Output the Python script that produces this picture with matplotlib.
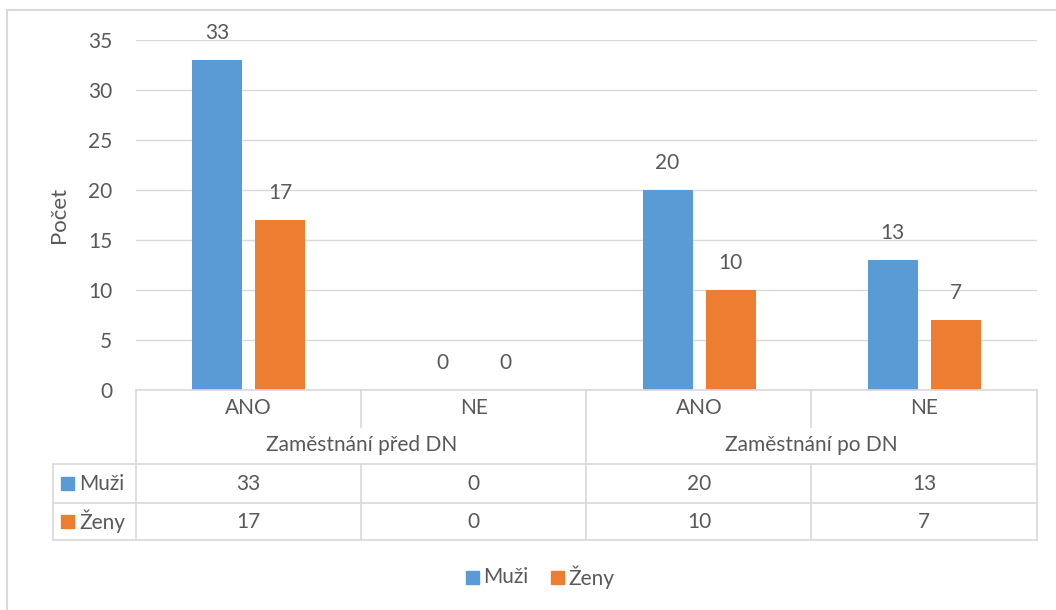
import matplotlib
matplotlib.use("Agg")
import matplotlib.pyplot as plt
from matplotlib.lines import Line2D
from matplotlib.patches import Rectangle
import matplotlib.transforms as mtransforms
import numpy as np

# data
categories = ["ANO", "NE", "ANO", "NE"]
groups = ["Zaměstnání před DN", "Zaměstnání po DN"]
series_names = ["Muži", "Ženy"]
muzi = [33, 0, 20, 13]
zeny = [17, 0, 10, 7]

colors = ["#5B9BD5", "#ED7D31"]
text_c = "#595959"
line_c = "#D9D9D9"
fs = 15

plt.rcParams["font.family"] = ["Lato", "DejaVu Sans"]
W, H = 1056, 610


def fx(x):
    return x / W


def fy(y):
    return 1 - y / H


def hline(fig, x0, x1, y, lw=1.2):
    fig.add_artist(Line2D([fx(x0), fx(x1)], [fy(y), fy(y)], color=line_c, lw=lw))


def vline(fig, x, y0, y1, lw=1.2):
    fig.add_artist(Line2D([fx(x), fx(x)], [fy(y0), fy(y1)], color=line_c, lw=lw))


fig = plt.figure(figsize=(W / 100, H / 100), dpi=100)
ax = fig.add_axes([fx(136), fy(390), fx(1037) - fx(136), fy(40) - fy(390)])

x = np.arange(len(categories))
width = 0.222
off = 0.14
for i, vals in enumerate([muzi, zeny]):
    pos = x - off if i == 0 else x + off
    ax.bar(pos, vals, width, color=colors[i], zorder=3)
    for p, v in zip(pos, vals):
        ax.annotate(str(v), (p, v), xytext=(0, 19.5), textcoords="offset points",
                    ha="center", va="center", fontsize=fs, color=text_c,
                    annotation_clip=False)

ax.set_xlim(-0.5, len(categories) - 0.5)
ax.set_ylim(0, 35)
ax.set_yticks(range(0, 36, 5))
ax.set_xticks([])
ax.tick_params(axis="y", length=0, pad=17, labelsize=fs, labelcolor=text_c)
ax.grid(axis="y", color=line_c, lw=1.0, zorder=0)
for sp in ax.spines.values():
    sp.set_visible(False)
ax.set_ylabel("Počet", fontsize=16, color=text_c, labelpad=14)

# outer chart border
hline(fig, 7, W, 10, lw=1.5)
vline(fig, 7, 10, H, lw=1.5)

# data table grid
hline(fig, 136, 1037, 390)
hline(fig, 53, 1037, 464)
hline(fig, 53, 1037, 503)
hline(fig, 53, 1037, 540)
vline(fig, 53, 464, 540)
for xp in [136, 586, 1037]:
    vline(fig, xp, 390, 540)
for xp in [361, 811]:
    vline(fig, xp, 390, 427)
    vline(fig, xp, 464, 540)

tr = mtransforms.blended_transform_factory(ax.transData, fig.transFigure)
for xi, c in zip(x, categories):
    fig.text(xi, fy(408), c, transform=tr, ha="center", va="center",
             fontsize=fs, color=text_c)
for gi, g in enumerate(groups):
    fig.text(2 * gi + 0.5, fy(445), g, transform=tr, ha="center", va="center",
             fontsize=fs, color=text_c)
for xi, a, b in zip(x, muzi, zeny):
    fig.text(xi, fy(483.5), str(a), transform=tr, ha="center", va="center",
             fontsize=fs, color=text_c)
    fig.text(xi, fy(521.5), str(b), transform=tr, ha="center", va="center",
             fontsize=fs, color=text_c)

# legend keys in table
for i, (name, yc) in enumerate(zip(series_names, [483.5, 521.5])):
    fig.add_artist(Rectangle((fx(61), fy(yc + 6.5)), fx(13), 13 / H,
                             color=colors[i], transform=fig.transFigure))
    fig.text(fx(79), fy(yc), name, ha="left", va="center", fontsize=fs,
             color=text_c)

# bottom legend
for i, (name, xs) in enumerate(zip(series_names, [466, 551])):
    fig.add_artist(Rectangle((fx(xs), fy(577 + 6.5)), fx(13), 13 / H,
                             color=colors[i], transform=fig.transFigure))
    fig.text(fx(xs + 17), fy(577), name, ha="left", va="center", fontsize=fs,
             color=text_c)

fig.savefig("out.png", dpi=100)
